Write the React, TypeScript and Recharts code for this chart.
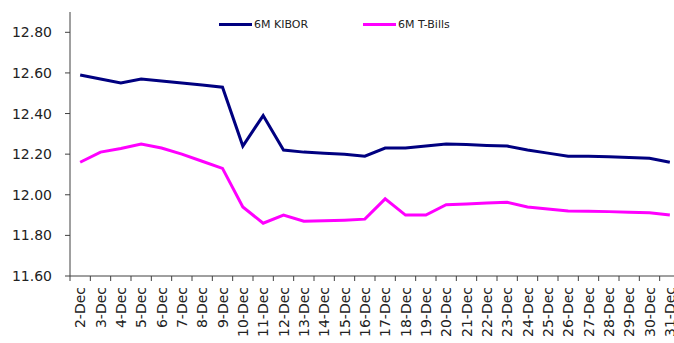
import { LineChart, Line, XAxis, YAxis } from 'recharts';

const dates = [
  '2-Dec', '3-Dec', '4-Dec', '5-Dec', '6-Dec', '7-Dec', '8-Dec', '9-Dec', '10-Dec', '11-Dec',
  '12-Dec', '13-Dec', '14-Dec', '15-Dec', '16-Dec', '17-Dec', '18-Dec', '19-Dec', '20-Dec', '21-Dec',
  '22-Dec', '23-Dec', '24-Dec', '25-Dec', '26-Dec', '27-Dec', '28-Dec', '29-Dec', '30-Dec', '31-Dec',
];

const kibor = [
  12.59, 12.57, 12.55, 12.57, 12.56, 12.55, 12.54, 12.53, 12.24, 12.39,
  12.22, 12.21, 12.205, 12.2, 12.19, 12.23, 12.23, 12.24, 12.25, 12.247,
  12.243, 12.24, 12.22, 12.205, 12.19, 12.19, 12.187, 12.183, 12.18, 12.16,
];

const tbills = [
  12.16, 12.21, 12.228, 12.25, 12.23, 12.2, 12.165, 12.13, 11.94, 11.86,
  11.9, 11.87, 11.872, 11.875, 11.88, 11.98, 11.9, 11.9, 11.951, 11.955,
  11.959, 11.963, 11.94, 11.93, 11.92, 11.919, 11.917, 11.914, 11.912, 11.9,
];

const yTicks = [11.6, 11.8, 12.0, 12.2, 12.4, 12.6, 12.8];

const data = dates.map((d, i) => ({ date: d, kibor: kibor[i], tbills: tbills[i] }));

const FONT = 'DejaVu Sans, sans-serif';
const AXIS = '#404040';
const BAND = 610 / dates.length;

// ticks sit on the category boundaries, labels on the centres
function DateTick({ x, y, payload, index }: any) {
  const ty = y + 3;
  return (
    <g>
      <line x1={x - BAND / 2} y1={y - 8} x2={x - BAND / 2} y2={y - 3} stroke={AXIS} />
      {index === dates.length - 1 && (
        <line x1={x + BAND / 2} y1={y - 8} x2={x + BAND / 2} y2={y - 3} stroke={AXIS} />
      )}
      <text
        x={x}
        y={ty}
        dy="0.36em"
        textAnchor="end"
        transform={`rotate(-90, ${x}, ${ty})`}
        fontFamily={FONT}
        fontSize={14}
        fill="#222"
      >
        {payload.value}
      </text>
    </g>
  );
}

const legendItems = [
  { label: '6M KIBOR', color: '#000080', left: 219 },
  { label: '6M T-Bills', color: '#ff00ff', left: 363 },
];

export default function App() {
  return (
    <div style={{ position: 'absolute', left: 0, top: 0, width: 674, height: 343, overflow: 'hidden', background: '#fff' }}>
      <LineChart width={690} height={343} data={data} margin={{ top: 12, right: 10, left: 0, bottom: 0 }}>
        <XAxis
          dataKey="date"
          interval={0}
          padding={{ left: BAND / 2, right: BAND / 2 }}
          tickLine={false}
          axisLine={{ stroke: AXIS }}
          tick={<DateTick />}
          height={67}
        />
        <YAxis
          width={70}
          domain={[11.6, 12.9]}
          ticks={yTicks}
          allowDataOverflow
          tickFormatter={(v: number) => v.toFixed(2)}
          tickSize={5}
          tickMargin={13}
          tickLine={{ stroke: AXIS }}
          axisLine={{ stroke: AXIS }}
          tick={{ fontFamily: FONT, fontSize: 14, fill: '#222' }}
        />
        <Line type="linear" dataKey="kibor" name="6M KIBOR" stroke="#000080" strokeWidth={3} dot={false} isAnimationActive={false} />
        <Line type="linear" dataKey="tbills" name="6M T-Bills" stroke="#ff00ff" strokeWidth={3} dot={false} isAnimationActive={false} />
      </LineChart>
      {legendItems.map(it => (
        <div
          key={it.label}
          style={{
            position: 'absolute', left: it.left, top: 18, display: 'flex', alignItems: 'center',
            whiteSpace: 'nowrap', fontFamily: FONT, fontSize: 11, color: '#222',
          }}
        >
          <span style={{ display: 'inline-block', width: 33, height: 3, background: it.color, marginRight: 2 }} />
          <span>{it.label}</span>
        </div>
      ))}
    </div>
  );
}
